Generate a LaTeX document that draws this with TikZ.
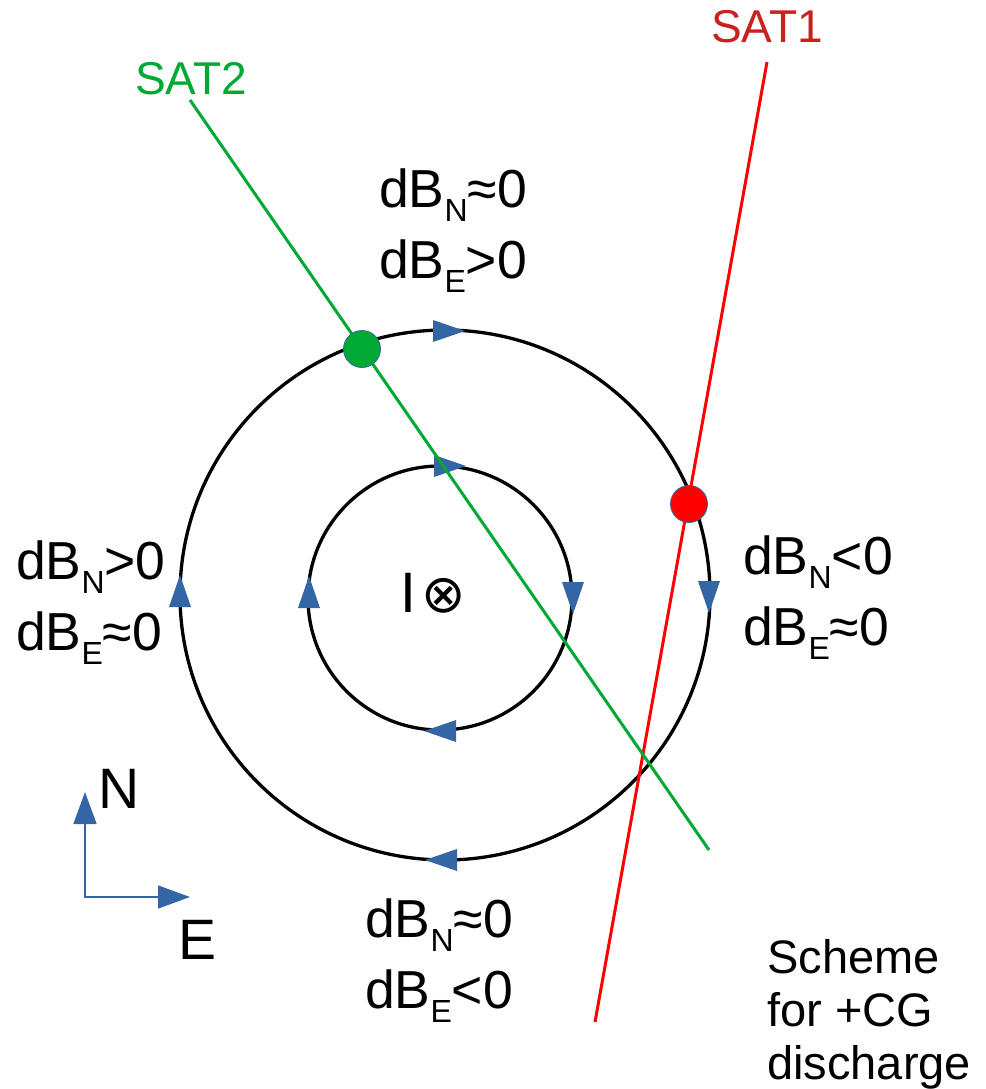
\documentclass[tikz,border=0pt]{standalone}
\usepackage{fontspec}
\setmainfont{Liberation Sans}
\newfontfamily\symfont{DejaVu Sans}
\usetikzlibrary{arrows.meta}
\definecolor{fieldblue}{RGB}{52, 101, 164}
\definecolor{satred}{RGB}{255, 0, 0}
\definecolor{satredtext}{RGB}{201, 33, 30}
\definecolor{satgreen}{RGB}{0, 169, 51}

\newcommand{\lowsub}[1]{\raisebox{-14pt}{\fontsize{32}{32}\selectfont #1}}

\begin{document}
\begin{tikzpicture}[
    x=1pt, y=-1pt,
    orbit/.style={draw=black, line width=3.3pt},
    track/.style={line width=3pt},
    dot/.style={circle, draw=fieldblue, line width=0.8pt, minimum size=37pt, inner sep=0pt},
    dblabel/.style={anchor=base west, inner sep=0pt, font=\fontsize{53.5}{53.5}\selectfont},
    satlabel/.style={anchor=base, inner sep=0pt, font=\fontsize{46}{46}\selectfont},
    axlabel/.style={anchor=base west, inner sep=0pt, font=\fontsize{57}{57}\selectfont},
    note/.style={anchor=base west, inner sep=0pt, font=\fontsize{47}{47}\selectfont},
    compass/.style={draw=fieldblue, line width=1.5pt,
        {Triangle[length=32pt, width=23pt]}-{Triangle[length=32pt, width=23pt]}},
    fieldhead/.pic={\fill[fieldblue] (-16,-11) -- (16,0) -- (-16,11) -- cycle;}
]
    \useasboundingbox (0,0) rectangle (985,1089);

    % Field lines around the current
    \coordinate (outerc) at (445,595);
    \coordinate (innerc) at (440,598);
    \draw[orbit] (outerc) circle[radius=265];
    \draw[orbit] (innerc) circle[radius=132];

    % Clockwise heads
    \pic[rotate=0] at (449,331) {fieldhead};
    \pic[rotate=-90] at (709,597) {fieldhead};
    \pic[rotate=180] at (441,860) {fieldhead};
    \pic[rotate=90] at (180,591) {fieldhead};
    \pic[rotate=0] at (450,466) {fieldhead};
    \pic[rotate=-90] at (573,598) {fieldhead};
    \pic[rotate=180] at (440,731) {fieldhead};
    \pic[rotate=90] at (309,592) {fieldhead};

    % Satellite tracks
    \node[satlabel, satredtext] (sat1) at (767,43) {SAT1};
    \node[satlabel, satgreen] (sat2) at (191,95) {SAT2};
    \coordinate (s1top) at (767,62);
    \coordinate (s1bot) at (595,1022);
    \coordinate (s2top) at (190,100);
    \coordinate (s2bot) at (709,850);
    \draw[track, satred] (s1top) -- (s1bot);
    \draw[track, satgreen] (s2top) -- (s2bot);
    \node[dot, fill=satgreen] (cross2) at (362,349) {};
    \node[dot, fill=satred] (cross1) at (689,504) {};

    % Current into the page
    \node[axlabel] (current) at (400,612) {I\hspace{5pt}{\symfont\fontsize{53}{53}\selectfont ⊗}};

    % Field change labels
    \node[dblabel] (topN) at (379,207) {dB\lowsub{N}≈0};
    \node[dblabel] (topE) at (379,278) {dB\lowsub{E}>0};
    \node[dblabel] (leftN) at (16,579) {dB\lowsub{N}>0};
    \node[dblabel] (leftE) at (16,650) {dB\lowsub{E}≈0};
    \node[dblabel] (rightN) at (743,574) {dB\lowsub{N}<0};
    \node[dblabel] (rightE) at (743,645) {dB\lowsub{E}≈0};
    \node[dblabel] (botN) at (365,937) {dB\lowsub{N}≈0};
    \node[dblabel] (botE) at (365,1008) {dB\lowsub{E}<0};

    % Compass
    \coordinate (origin) at (85,897);
    \coordinate (ntip) at (85,792);
    \coordinate (etip) at (190,897);
    \draw[compass] (ntip) -- (origin) -- (etip);
    \node[axlabel] (north) at (98,808) {N};
    \node[axlabel] (east) at (178,959) {E};

    % Caption
    \node[note] (cap1) at (767,973) {Scheme};
    \node[note] (cap2) at (767,1026) {for +CG};
    \node[note] (cap3) at (767,1079) {discharge};
\end{tikzpicture}
\end{document}
